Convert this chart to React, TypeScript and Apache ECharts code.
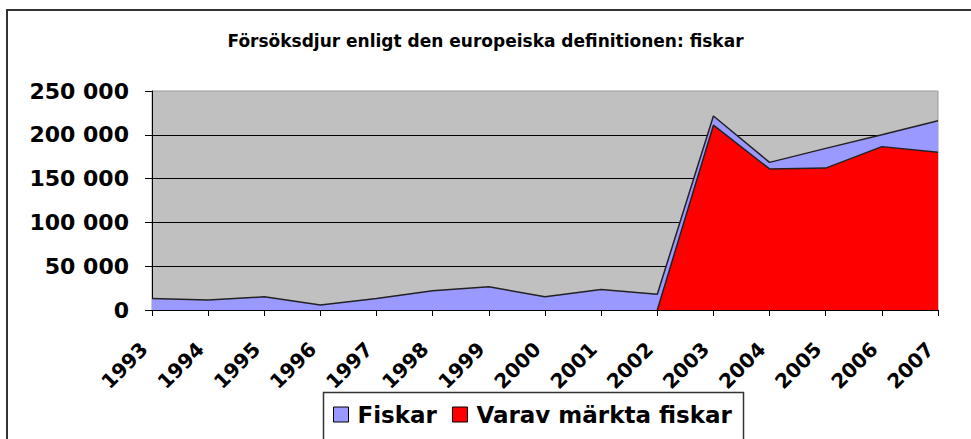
import React, { useEffect, useRef } from "react";
import * as echarts from "echarts";

const years = ["1993","1994","1995","1996","1997","1998","1999","2000","2001","2002","2003","2004","2005","2006","2007"];
const fiskar = [13000, 11500, 15000, 5700, 13000, 22000, 26500, 15000, 23500, 18000, 221500, 168500, 184500, 200000, 216000];
const marktaFiskar = [null, null, null, null, null, null, null, null, null, 0, 211000, 161000, 162000, 186500, 180000];
const yTicks = { min: 0, max: 250000, interval: 50000 };

const fmt = (v: number) => String(v).replace(/\B(?=(\d{3})+(?!\d))/g, " ");

export default function App() {
  const ref = useRef<HTMLDivElement>(null);
  useEffect(() => {
    const chart = echarts.init(ref.current!, null, { renderer: "svg" });
    chart.setOption({
      animation: false,
      backgroundColor: "#ffffff",
      title: {
        text: "Försöksdjur enligt den europeiska definitionen: fiskar",
        left: "center",
        top: 32,
        padding: 0,
        textStyle: { fontFamily: "DejaVu Sans", fontWeight: "bold", fontSize: 17, color: "#000" },
      },
      graphic: [
        {
          type: "rect",
          z: 0,
          shape: { x: 7, y: 10, width: 1000, height: 500 },
          style: { fill: "none", stroke: "#333", lineWidth: 2 },
        },
        {
          type: "rect",
          z: 1,
          shape: { x: 323.5, y: 392.5, width: 420, height: 100 },
          style: { fill: "#fff", stroke: "#333", lineWidth: 1.5 },
        },
      ],
      legend: {
        left: 333,
        top: 403,
        padding: 0,
        itemWidth: 15,
        itemHeight: 15,
        itemGap: 15,
        icon: "rect",
        z: 10,
        textStyle: { fontFamily: "DejaVu Sans", fontWeight: "bold", fontSize: 23, color: "#000", padding: [0, 0, 0, 4] },
        data: [
          { name: "Fiskar", itemStyle: { color: "#9999FF", borderColor: "#000", borderWidth: 1 } },
          { name: "Varav märkta fiskar", itemStyle: { color: "#FF0000", borderColor: "#000", borderWidth: 1 } },
        ],
      },
      grid: {
        left: 152,
        right: 33,
        top: 91,
        bottom: 129,
        show: true,
        backgroundColor: "#C0C0C0",
        borderColor: "#999",
        borderWidth: 1,
      },
      xAxis: {
        type: "category",
        data: years,
        boundaryGap: false,
        axisLine: { lineStyle: { color: "#000", width: 1 } },
        axisTick: { show: true, length: 6, lineStyle: { color: "#000" } },
        axisLabel: {
          rotate: 45,
          margin: 28,
          padding: [0, 11, 0, 0],
          fontFamily: "DejaVu Sans",
          fontWeight: "bold",
          fontSize: 20,
          color: "#000",
        },
        splitLine: { show: false },
      },
      yAxis: {
        type: "value",
        min: yTicks.min,
        max: yTicks.max,
        interval: yTicks.interval,
        axisLine: { show: true, lineStyle: { color: "#000", width: 1 } },
        axisTick: { show: true, length: 7, lineStyle: { color: "#000" } },
        axisLabel: {
          margin: 23,
          fontFamily: "DejaVu Sans",
          fontWeight: "bold",
          fontSize: 22,
          color: "#000",
          formatter: (v: number) => fmt(v),
        },
        splitLine: { show: true, showMaxLine: false, lineStyle: { color: "#000", width: 1 } },
      },
      series: [
        {
          name: "Fiskar",
          type: "line",
          data: fiskar,
          symbol: "none",
          itemStyle: { color: "#9999FF" },
          lineStyle: { color: "#222", width: 1.5 },
          areaStyle: { color: "#9999FF", opacity: 1 },
        },
        {
          name: "Varav märkta fiskar",
          type: "line",
          data: marktaFiskar,
          symbol: "none",
          itemStyle: { color: "#FF0000" },
          lineStyle: { color: "#222", width: 1.5 },
          areaStyle: { color: "#FF0000", opacity: 1 },
        },
      ],
    });
    return () => chart.dispose();
  }, []);
  return <div ref={ref} style={{ position: "absolute", left: 0, top: 0, width: 971, height: 439 }} />;
}
